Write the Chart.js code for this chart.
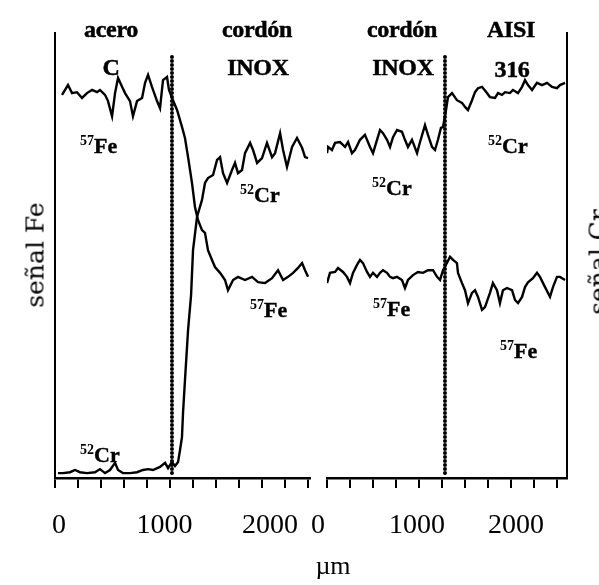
<!DOCTYPE html>
<html>
<head>
<meta charset="utf-8">
<script src="https://cdn.jsdelivr.net/npm/chart.js@4"></script>
<style>
  html, body { margin: 0; padding: 0; background: #fff; }
  body { width: 599px; height: 585px; position: relative; overflow: hidden; }
  canvas { position: absolute; top: 0; }
  #leftChart { left: 0; }
  #rightChart { left: 307px; }
  .t { position: absolute; color: #000; white-space: nowrap; line-height: 1; font-family: "Liberation Serif", serif; }
  .hdr { font-size: 24px; font-weight: bold; transform: translateX(-50%); letter-spacing: -0.3px; -webkit-text-stroke: 0.5px #000; }
  .el { font-size: 22px; font-weight: bold; -webkit-text-stroke: 0.4px #000; }
  .el sup { font-size: 14px; vertical-align: 0; position: relative; top: -8px; line-height: 0; -webkit-text-stroke: 0; }
  .ytitle { font-family: "DejaVu Serif", serif; font-size: 25px; transform: translate(-50%, -50%) rotate(-90deg); }
  .xtitle { font-size: 26px; transform: translateX(-50%); }
</style>
</head>
<body>
<canvas id="leftChart" width="312" height="585"></canvas>
<canvas id="rightChart" width="292" height="585"></canvas>

<div class="t hdr" style="left:111px; top:17px">acero</div>
<div class="t hdr" style="left:111px; top:55px">C</div>
<div class="t hdr" style="left:257px; top:17px">cordón</div>
<div class="t hdr" style="left:258px; top:55px">INOX</div>
<div class="t hdr" style="left:402px; top:17px">cordón</div>
<div class="t hdr" style="left:403px; top:55px">INOX</div>
<div class="t hdr" style="left:511px; top:17px">AISI</div>
<div class="t hdr" style="left:512px; top:57px">316</div>

<div class="t el" style="left:80px; top:135px"><sup>57</sup>Fe</div>
<div class="t el" style="left:80px; top:444px"><sup>52</sup>Cr</div>
<div class="t el" style="left:240px; top:184px"><sup>52</sup>Cr</div>
<div class="t el" style="left:250px; top:299px"><sup>57</sup>Fe</div>
<div class="t el" style="left:372px; top:177px"><sup>52</sup>Cr</div>
<div class="t el" style="left:488px; top:135px"><sup>52</sup>Cr</div>
<div class="t el" style="left:373px; top:298px"><sup>57</sup>Fe</div>
<div class="t el" style="left:500px; top:340px"><sup>57</sup>Fe</div>

<div class="t ytitle" style="left:35px; top:255px">señal Fe</div>
<div class="t ytitle" style="left:598px; top:262px">señal Cr</div>
<div class="t xtitle" style="left:333px; top:553px">µm</div>

<script>
// distance in µm, signal in arbitrary units (0-100)
const leftFeX = [61,113,148,191,235,278,322,365,391,435,461,496,522,548,583,609,652,678,713,757,783,809,843,887,913,939,974,991,1026,1061,1104,1130,1157,1191,1217,1243,1278,1304,1330,1365,1391,1435,1478,1504,1548,1591,1652,1713,1765,1826,1887,1939,1983,2026,2070,2113,2148,2174,2200];
const leftFeY = [86.1,88.3,86.5,86.7,85.4,86.5,87.2,86.7,87.2,86.1,84.7,81.3,86.5,89.9,87.9,86.5,84.7,81.3,84.7,85.4,88.8,90.6,87.9,84.7,83.1,89.4,90.1,87.2,84.9,82.7,78.9,76.4,72.1,66.3,60.9,58.0,55.7,55.1,51.2,49.0,47.4,46.1,44.5,42.2,44.5,45.2,44.5,45.2,44.0,43.8,44.9,46.7,44.5,45.2,46.1,47.2,48.3,46.7,45.2];

const leftCrX = [26,70,130,174,217,278,348,391,435,478,522,548,591,652,713,765,809,852,913,957,983,1017,1043,1070,1087,1104,1113,1130,1157,1183,1200,1235,1278,1304,1330,1374,1409,1435,1461,1496,1539,1565,1591,1626,1652,1696,1722,1757,1800,1843,1887,1913,1957,1983,2017,2061,2104,2148,2174,2200];
const leftCrY = [1.1,1.1,1.3,1.8,1.3,1.1,1.3,2.0,1.1,1.8,3.4,1.8,1.1,1.1,1.3,1.8,2.0,1.8,2.5,3.4,2.2,3.6,2.7,3.6,6.3,9.2,14.6,22.0,33.3,41.1,51.2,58.7,62.5,66.3,67.4,68.1,71.5,72.1,68.5,66.3,69.2,70.8,68.5,69.2,73.0,75.3,73.7,70.8,71.9,75.3,72.1,73.0,77.5,73.7,69.9,74.4,76.4,74.2,72.1,71.9];

const rightCrX = [0,9,43,70,113,157,183,217,243,287,330,374,400,435,461,487,522,548,574,609,652,678,704,739,783,809,852,878,913,939,965,991,1009,1035,1052,1087,1130,1174,1200,1226,1261,1287,1313,1348,1391,1417,1461,1487,1522,1548,1591,1617,1661,1696,1722,1748,1783,1826,1870,1913,1957,2000,2026,2070];
const rightCrY = [73.0,74.4,73.7,75.3,75.5,74.4,75.5,73.0,73.7,76.0,77.1,74.4,73.0,76.0,78.2,77.5,76.0,74.4,76.6,78.2,77.8,76.0,74.4,76.0,73.0,75.5,79.3,77.1,74.4,73.7,76.0,78.7,78.9,82.7,85.6,86.5,84.9,84.3,83.4,82.7,84.9,86.7,87.6,87.9,86.5,85.6,85.4,86.5,86.1,86.7,86.5,87.2,86.5,87.9,89.4,88.3,87.2,88.8,88.3,88.8,87.9,87.6,88.3,88.8];

const rightFeX = [0,26,70,96,139,174,200,226,261,287,313,348,374,400,435,461,487,522,548,574,609,652,678,704,748,791,835,878,922,957,983,1009,1043,1070,1096,1130,1139,1174,1200,1226,1261,1287,1313,1348,1374,1417,1443,1478,1504,1530,1565,1609,1635,1661,1696,1722,1748,1791,1826,1852,1896,1939,1965,2000,2026,2070];
const rightFeY = [43.8,46.1,46.3,47.2,46.3,45.2,43.8,46.1,47.9,49.0,48.3,46.3,45.2,46.1,45.2,46.1,46.7,46.1,45.2,44.9,45.2,44.5,42.7,44.5,45.6,46.3,46.1,46.7,46.7,45.2,44.5,46.7,48.3,49.7,49.0,48.3,46.1,43.8,42.2,39.3,41.6,42.2,40.7,37.8,38.4,41.6,43.8,42.2,39.3,42.2,42.7,42.2,40.0,39.3,40.7,42.9,44.0,44.9,46.1,45.2,42.9,40.7,42.9,45.2,45.2,44.5];

// interface positions (dotted lines) and their vertical extent
const leftInterface = 1017;
const rightInterface = 1026;
const interfaceY = [1.1, 94.6];

// tick marks and tick labels
const leftTicks = [0,200,400,600,800,1000,1200,1400,1600,1800,2000,2200];
const rightTicks = [0,200,400,600,800,1000,1200,1400,1600,1800,2000];
const labelTicks = [0,1000,2000];

const toPoints = (xs, ys) => xs.map((x, i) => ({ x: x, y: ys[i] }));

function trace(xs, ys) {
  return { data: toPoints(xs, ys), borderColor: '#000', borderWidth: 2.4, pointRadius: 0, tension: 0 };
}

function divider(x) {
  return {
    data: [{ x: x, y: interfaceY[0] }, { x: x, y: interfaceY[1] }],
    borderColor: '#000', borderWidth: 4, borderDash: [0, 4], borderCapStyle: 'round',
    pointRadius: 0
  };
}

function makePanel(id, o) {
  new Chart(document.getElementById(id), {
    type: 'line',
    data: { datasets: o.datasets },
    options: {
      responsive: false,
      animation: false,
      layout: { padding: o.padding },
      plugins: { legend: { display: false }, tooltip: { enabled: false } },
      scales: {
        x: {
          type: 'linear', position: 'bottom', min: 0, max: o.xMax, weight: 0,
          afterBuildTicks: s => { s.ticks = o.ticks.map(v => ({ value: v })); },
          afterFit: s => { s.height = 10; },
          ticks: { display: false },
          grid: { display: true, drawOnChartArea: false, drawTicks: true, tickLength: 10, color: '#000', lineWidth: 2 },
          border: { display: true, color: '#000', width: 2.5 }
        },
        xLab: {
          type: 'linear', position: 'bottom', min: 0, max: o.labMax, weight: 1,
          afterBuildTicks: s => { s.ticks = labelTicks.map(v => ({ value: v })); },
          afterFit: s => { s.height = 97; },
          grid: { display: false },
          border: { display: false },
          ticks: {
            autoSkip: false, maxRotation: 0, padding: 13, labelOffset: o.labOffset,
            color: '#000', font: { family: 'Liberation Serif', size: 28 },
            callback: v => String(v)
          }
        },
        y: {
          position: o.yPos, min: 0, max: 100,
          afterFit: s => { s.width = 0; },
          ticks: { display: false },
          grid: { display: false },
          border: { display: true, color: '#000', width: 2 }
        }
      }
    }
  });
}

makePanel('leftChart', {
  datasets: [trace(leftFeX, leftFeY), trace(leftCrX, leftCrY), divider(leftInterface)],
  padding: { left: 55, top: 33, right: 2, bottom: 0 },
  xMax: 2217, ticks: leftTicks, labMax: 2417, labOffset: 4, yPos: 'left'
});

makePanel('rightChart', {
  datasets: [trace(rightFeX, rightFeY), trace(rightCrX, rightCrY), divider(rightInterface)],
  padding: { left: 14, top: 33, right: 32, bottom: 0 },
  xMax: 2087, ticks: rightTicks, labMax: 2424, labOffset: -9, yPos: 'right'
});
</script>
</body>
</html>
